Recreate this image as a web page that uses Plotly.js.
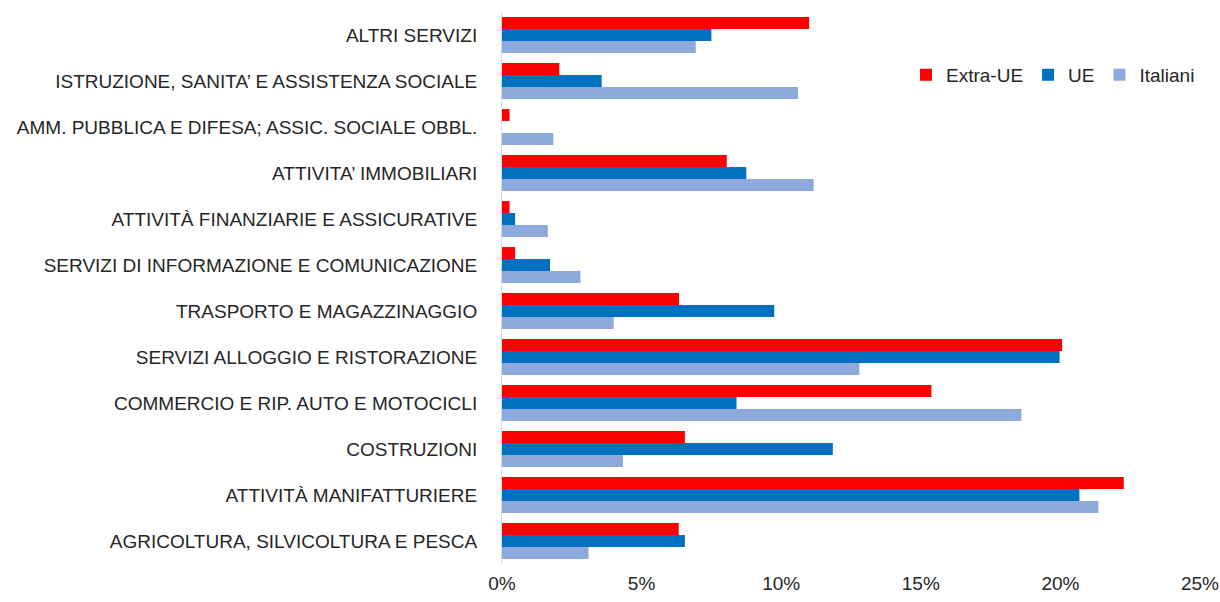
<!DOCTYPE html>
<html>
<head>
<meta charset="utf-8">
<script src="https://cdn.plot.ly/plotly-3.0.1.min.js"></script>
<style>html,body{margin:0;padding:0;background:#fff;}#chart{width:1220px;height:602px;}</style>
</head>
<body>
<div id="chart"></div>
<script>
const categories = [
  "ALTRI SERVIZI",
  "ISTRUZIONE, SANITA’ E ASSISTENZA SOCIALE",
  "AMM. PUBBLICA E DIFESA; ASSIC. SOCIALE OBBL.",
  "ATTIVITA’ IMMOBILIARI",
  "ATTIVITÀ FINANZIARIE E ASSICURATIVE",
  "SERVIZI DI INFORMAZIONE E COMUNICAZIONE",
  "TRASPORTO E MAGAZZINAGGIO",
  "SERVIZI ALLOGGIO E RISTORAZIONE",
  "COMMERCIO E RIP. AUTO E MOTOCICLI",
  "COSTRUZIONI",
  "ATTIVITÀ MANIFATTURIERE",
  "AGRICOLTURA, SILVICOLTURA E PESCA"
];
const extraUE = [11.0, 2.05, 0.27, 8.05, 0.27, 0.47, 6.34, 20.06, 15.38, 6.55, 22.27, 6.33];
const ue      = [7.5, 3.57, 0.0, 8.75, 0.47, 1.72, 9.75, 19.97, 8.4, 11.85, 20.68, 6.55];
const italiani= [6.94, 10.6, 1.84, 11.16, 1.64, 2.81, 4.0, 12.8, 18.6, 4.33, 21.36, 3.1];
const seriesNames = ["Extra-UE", "UE", "Italiani"];
const seriesColors = ["#FF0000", "#0070C0", "#8EA9DB"];
const seriesValues = [extraUE, ue, italiani];

const traces = seriesValues.map((vals, i) => ({
  type: 'bar',
  orientation: 'h',
  name: seriesNames[i],
  y: categories,
  x: vals,
  marker: {color: seriesColors[i], line: {width: 0}},
  hoverinfo: 'x+y+name'
}));

const fontFam = '"Liberation Sans Narrow", "Arial Narrow", "Liberation Sans", Arial, sans-serif';

const layout = {
  width: 1220,
  height: 602,
  margin: {l: 502, r: 20, t: 12, b: 38, pad: 0},
  paper_bgcolor: '#ffffff',
  plot_bgcolor: '#ffffff',
  barmode: 'group',
  bargap: 0.22,
  bargroupgap: 0,
  font: {family: fontFam, size: 19, color: '#262626'},
  xaxis: {
    range: [0, 25],
    dtick: 5,
    tick0: 0,
    ticksuffix: '%',
    showgrid: false,
    zeroline: false,
    showline: false,
    ticks: '',
    ticklabelstandoff: 6,
    tickfont: {family: fontFam, size: 19, color: '#262626'}
  },
  yaxis: {
    type: 'category',
    autorange: 'reversed',
    showgrid: false,
    zeroline: false,
    showline: true,
    linecolor: '#D0D7E5',
    linewidth: 1,
    ticks: '',
    ticklabelstandoff: 20,
    tickfont: {family: fontFam, size: 19, color: '#262626'}
  },
  legend: {
    orientation: 'h',
    x: 1.0,
    xanchor: 'right',
    y: 0.886,
    yanchor: 'middle',
    bgcolor: 'rgba(0,0,0,0)',
    font: {family: fontFam, size: 19, color: '#262626'},
    itemwidth: 30,
    tracegroupgap: 0
  },
  showlegend: true
};

Plotly.newPlot('chart', traces, layout, {displayModeBar: false, staticPlot: true});
</script>
</body>
</html>
